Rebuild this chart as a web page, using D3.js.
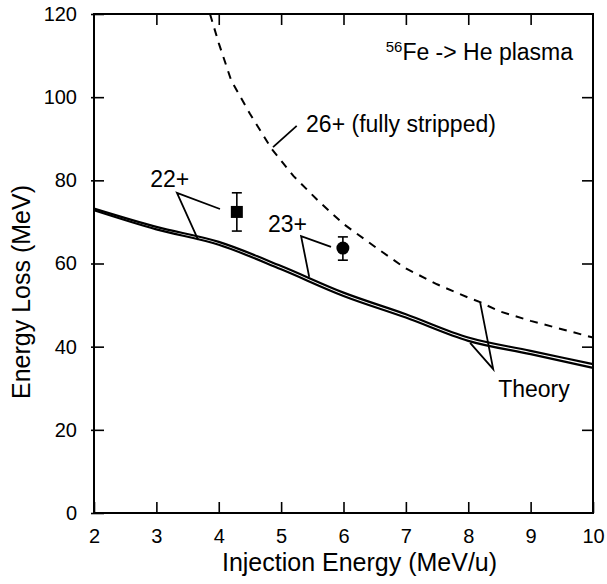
<!DOCTYPE html>
<html>
<head>
<meta charset="utf-8">
<script src="https://cdn.jsdelivr.net/npm/d3@7"></script>
<style>
  body { margin: 0; background: #fff; }
  text { font-family: Arial, "Liberation Sans", sans-serif; fill: #000; }
</style>
</head>
<body>
<div id="chart"></div>
<script>
// data
var energy = [2, 3, 4, 5, 6, 7, 8, 9, 10]
var theoryUpper = [73.2, 68.8, 65.2, 59.4, 53.0, 47.8, 42.2, 39.0, 35.8]
var theoryLower = [72.8, 68.2, 64.5, 58.6, 52.2, 47.0, 41.4, 38.2, 34.9]
var strippedE = [3.86, 4.0, 4.2, 4.5, 4.85, 5.2, 5.6, 6.0, 6.58, 7.0, 7.5, 8.0, 8.19, 8.5, 9.0, 9.5, 10]
var strippedLoss = [120, 113, 104, 96, 87.5, 81, 75, 69.5, 63.2, 58.8, 55.0, 51.8, 50.7, 48.5, 46.2, 44.2, 42.2]
// measurements: [energy, loss, errLow, errHigh]
var charge22 = [4.29, 72.4, 67.8, 77.0]
var charge23 = [5.99, 63.7, 60.8, 66.4]
var xTicks = [2, 3, 4, 5, 6, 7, 8, 9, 10]
var yTicks = [0, 20, 40, 60, 80, 100, 120]

var width = 607
    height = 584
    margin = {top: 14, right: 14, bottom: 71, left: 94}

var svg = d3.select("#chart")
  .append("svg")
    .attr("width", width)
    .attr("height", height)

var x = d3.scaleLinear().domain([2, 10]).range([margin.left, width - margin.right])
var y = d3.scaleLinear().domain([0, 120]).range([height - margin.bottom, margin.top])

// axes with inward ticks on all four sides
function styleAxis(g) {
  g.select(".domain").remove()
  g.selectAll(".tick line").attr("stroke", "#000").attr("stroke-width", 1.6)
  g.selectAll("text").style("font-size", "20px").attr("fill", "#000")
}
svg.append("g")
  .attr("transform", "translate(0," + y(0) + ")")
  .call(d3.axisBottom(x).tickValues(xTicks).tickSize(-11).tickPadding(16).tickFormat(d3.format("d")))
  .call(styleAxis)
svg.append("g")
  .attr("transform", "translate(0," + y(120) + ")")
  .call(d3.axisTop(x).tickValues(xTicks.slice(1, -1)).tickSize(-11).tickFormat(""))
  .call(styleAxis)
svg.append("g")
  .attr("transform", "translate(" + x(2) + ",0)")
  .call(d3.axisLeft(y).tickValues(yTicks).tickSize(3).tickPadding(14).tickFormat(d3.format("d")))
  .call(styleAxis)
  .selectAll(".tick line").attr("x2", 10).attr("x1", -3)
svg.append("g")
  .attr("transform", "translate(" + x(10) + ",0)")
  .call(d3.axisRight(y).tickValues(yTicks.slice(1, -1)).tickSize(-11).tickFormat(""))
  .call(styleAxis)

svg.append("rect")
  .attr("x", x(2)).attr("y", y(120))
  .attr("width", x(10) - x(2)).attr("height", y(0) - y(120))
  .attr("fill", "none").attr("stroke", "#000").attr("stroke-width", 2)

// curves
var line = d3.line()
  .x(function(d) { return x(d[0]) })
  .y(function(d) { return y(d[1]) })
  .curve(d3.curveMonotoneX)

svg.append("path")
  .datum(d3.zip(energy, theoryUpper))
  .attr("d", line).attr("fill", "none").attr("stroke", "#000").attr("stroke-width", 2.2)
svg.append("path")
  .datum(d3.zip(energy, theoryLower))
  .attr("d", line).attr("fill", "none").attr("stroke", "#000").attr("stroke-width", 2.2)

svg.append("path")
  .datum(d3.zip(strippedE, strippedLoss))
  .attr("d", line.curve(d3.curveLinear))
  .attr("fill", "none").attr("stroke", "#000").attr("stroke-width", 2)
  .attr("stroke-dasharray", "8,7")

// data points with error bars
;[charge22, charge23].forEach(function(p) {
  var g = svg.append("g")
  g.append("line").attr("x1", x(p[0])).attr("x2", x(p[0])).attr("y1", y(p[2])).attr("y2", y(p[3]))
    .attr("stroke", "#000").attr("stroke-width", 1.6)
  ;[p[2], p[3]].forEach(function(v) {
    g.append("line").attr("x1", x(p[0]) - 5).attr("x2", x(p[0]) + 5).attr("y1", y(v)).attr("y2", y(v))
      .attr("stroke", "#000").attr("stroke-width", 1.6)
  })
})
svg.append("rect")
  .attr("x", x(charge22[0]) - 6).attr("y", y(charge22[1]) - 6)
  .attr("width", 12).attr("height", 12).attr("fill", "#000")
svg.append("circle")
  .attr("cx", x(charge23[0])).attr("cy", y(charge23[1])).attr("r", 6.5).attr("fill", "#000")

// annotation pointers (data units)
var pointers = [
  [[4.02, 73.1], [3.33, 77.0], [3.67, 65.7]],
  [[5.80, 64.0], [5.32, 66.6], [5.45, 56.8]],
  [[5.25, 93.1], [4.87, 88.0]],
  [[8.19, 50.7], [8.40, 34.6], [8.03, 40.9]]
]
pointers.forEach(function(pts) {
  svg.append("path")
    .attr("d", d3.line().x(function(d) { return x(d[0]) }).y(function(d) { return y(d[1]) })(pts))
    .attr("fill", "none").attr("stroke", "#000").attr("stroke-width", 1.8)
})

var labels = [
  {t: "22+", e: 2.90, v: 78.4},
  {t: "23+", e: 4.79, v: 67.6},
  {t: "26+ (fully stripped)", e: 5.40, v: 91.6},
  {t: "Theory", e: 8.48, v: 27.9}
]
labels.forEach(function(l) {
  svg.append("text").attr("x", x(l.e)).attr("y", y(l.v))
    .style("font-size", "23px").text(l.t)
})

var title = svg.append("text")
  .attr("x", x(9.68)).attr("y", y(109))
  .attr("text-anchor", "end")
  .style("font-size", "23px")
title.append("tspan").attr("dy", -8).style("font-size", "15px").text("56")
title.append("tspan").attr("dy", 8).text("Fe -> He plasma")

// axis titles
svg.append("text")
  .attr("x", (x(2) + x(10)) / 2 + 16).attr("y", 571)
  .attr("text-anchor", "middle")
  .style("font-size", "25px")
  .text("Injection Energy (MeV/u)")
svg.append("text")
  .attr("transform", "translate(30," + 292 + ") rotate(-90)")
  .attr("text-anchor", "middle")
  .style("font-size", "25px")
  .text("Energy Loss (MeV)")
</script>
</body>
</html>
